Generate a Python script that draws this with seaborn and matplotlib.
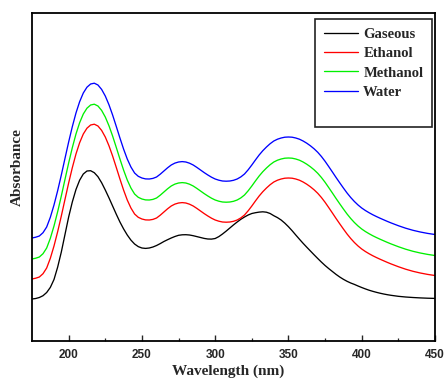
import pandas as pd
import seaborn as sns
import matplotlib.pyplot as plt
from matplotlib.lines import Line2D

# wavelength grid (nm)
wavelength = [175, 177.5, 180, 182.5, 185, 187.5, 190, 192.5, 195, 197.5,
              200, 202.5, 205, 207.5, 210, 212.5, 215, 217.5, 220, 222.5,
              225, 227.5, 230, 232.5, 235, 237.5, 240, 242.5, 245, 247.5,
              250, 252.5, 255, 257.5, 260, 262.5, 265, 267.5, 270, 272.5,
              275, 277.5, 280, 282.5, 285, 287.5, 290, 292.5, 295, 297.5,
              300, 302.5, 305, 307.5, 310, 312.5, 315, 317.5, 320, 322.5,
              325, 327.5, 330, 332.5, 335, 337.5, 340, 342.5, 345, 347.5,
              350, 352.5, 355, 357.5, 360, 362.5, 365, 367.5, 370, 372.5,
              375, 377.5, 380, 382.5, 385, 387.5, 390, 392.5, 395, 397.5,
              400, 402.5, 405, 407.5, 410, 412.5, 415, 417.5, 420,
              425, 430, 435, 440, 445, 450]

# absorbance (arbitrary units)
gaseous = [0.420, 0.425, 0.435, 0.453, 0.485, 0.536, 0.615, 0.739, 0.890, 1.065,
           1.240, 1.390, 1.515, 1.608, 1.670, 1.700, 1.703, 1.683, 1.643, 1.583,
           1.510, 1.432, 1.350, 1.268, 1.190, 1.121, 1.060, 1.009, 0.970, 0.944,
           0.930, 0.926, 0.930, 0.940, 0.955, 0.974, 0.995, 1.013, 1.030, 1.045,
           1.057, 1.062, 1.063, 1.060, 1.053, 1.044, 1.035, 1.026, 1.020, 1.019,
           1.025, 1.044, 1.070, 1.099, 1.130, 1.161, 1.190, 1.217, 1.240, 1.260,
           1.275, 1.283, 1.289, 1.292, 1.288, 1.275, 1.253, 1.234, 1.210, 1.179,
           1.143, 1.103, 1.060, 1.018, 0.977, 0.938, 0.900, 0.862, 0.825, 0.789,
           0.755, 0.724, 0.695, 0.666, 0.640, 0.617, 0.597, 0.580, 0.566, 0.550,
           0.535, 0.521, 0.508, 0.497, 0.487, 0.478, 0.470, 0.463, 0.457,
           0.447, 0.440, 0.435, 0.431, 0.428, 0.426]

ethanol = [0.620, 0.628, 0.640, 0.673, 0.730, 0.827, 0.950, 1.093, 1.250, 1.416,
           1.580, 1.733, 1.870, 1.983, 2.070, 2.128, 2.160, 2.168, 2.150, 2.106,
           2.040, 1.953, 1.850, 1.736, 1.620, 1.509, 1.410, 1.330, 1.270, 1.237,
           1.220, 1.211, 1.210, 1.216, 1.230, 1.258, 1.290, 1.322, 1.350, 1.369,
           1.380, 1.384, 1.380, 1.368, 1.350, 1.326, 1.300, 1.274, 1.250, 1.228,
           1.210, 1.198, 1.190, 1.188, 1.190, 1.197, 1.210, 1.231, 1.260, 1.302,
           1.350, 1.401, 1.450, 1.493, 1.530, 1.563, 1.590, 1.608, 1.620, 1.628,
           1.630, 1.628, 1.620, 1.608, 1.590, 1.568, 1.542, 1.512, 1.477, 1.435,
           1.387, 1.334, 1.280, 1.225, 1.172, 1.120, 1.070, 1.025, 0.985, 0.950,
           0.920, 0.895, 0.873, 0.853, 0.835, 0.818, 0.802, 0.786, 0.771,
           0.743, 0.718, 0.697, 0.680, 0.666, 0.655]

methanol = [0.820, 0.828, 0.840, 0.873, 0.930, 1.027, 1.150, 1.293, 1.450, 1.616,
            1.780, 1.933, 2.070, 2.183, 2.270, 2.328, 2.360, 2.368, 2.350, 2.306,
            2.240, 2.153, 2.050, 1.936, 1.820, 1.709, 1.610, 1.530, 1.470, 1.437,
            1.420, 1.411, 1.410, 1.416, 1.430, 1.458, 1.490, 1.522, 1.550, 1.569,
            1.580, 1.584, 1.580, 1.568, 1.550, 1.526, 1.500, 1.474, 1.450, 1.428,
            1.410, 1.398, 1.390, 1.388, 1.390, 1.397, 1.410, 1.431, 1.460, 1.502,
            1.550, 1.601, 1.650, 1.693, 1.730, 1.763, 1.790, 1.808, 1.820, 1.828,
            1.830, 1.828, 1.820, 1.808, 1.790, 1.768, 1.742, 1.712, 1.677, 1.635,
            1.587, 1.534, 1.480, 1.425, 1.372, 1.320, 1.270, 1.225, 1.185, 1.150,
            1.120, 1.095, 1.073, 1.053, 1.035, 1.018, 1.002, 0.986, 0.971,
            0.943, 0.918, 0.897, 0.880, 0.866, 0.855]

water = [1.030, 1.038, 1.050, 1.083, 1.140, 1.237, 1.360, 1.503, 1.660, 1.826,
         1.990, 2.143, 2.280, 2.393, 2.480, 2.538, 2.570, 2.578, 2.560, 2.516,
         2.450, 2.363, 2.260, 2.146, 2.030, 1.919, 1.820, 1.740, 1.680, 1.647,
         1.630, 1.621, 1.620, 1.626, 1.640, 1.668, 1.700, 1.732, 1.760, 1.779,
         1.790, 1.794, 1.790, 1.778, 1.760, 1.736, 1.710, 1.684, 1.660, 1.638,
         1.620, 1.608, 1.600, 1.598, 1.600, 1.607, 1.620, 1.641, 1.670, 1.712,
         1.760, 1.811, 1.860, 1.903, 1.940, 1.973, 2.000, 2.018, 2.030, 2.038,
         2.040, 2.038, 2.030, 2.018, 2.000, 1.978, 1.952, 1.922, 1.887, 1.845,
         1.797, 1.744, 1.690, 1.635, 1.582, 1.530, 1.480, 1.435, 1.395, 1.360,
         1.330, 1.305, 1.283, 1.263, 1.245, 1.228, 1.212, 1.196, 1.181,
         1.153, 1.128, 1.107, 1.090, 1.076, 1.065]

solvents = ['Gaseous', 'Ethanol', 'Methanol', 'Water']
colors = {'Gaseous': '#000000', 'Ethanol': '#ff0000',
          'Methanol': '#00f000', 'Water': '#0000ff'}

# long table for seaborn
frames = []
for name, values in zip(solvents, [gaseous, ethanol, methanol, water]):
    frames.append(pd.DataFrame({'Wavelength': wavelength,
                                'Absorbance': values,
                                'Solvent': name}))
df = pd.concat(frames, ignore_index=True)

sns.set_style('ticks')
plt.rcParams['font.family'] = ['Liberation Serif', 'DejaVu Serif']

fig = plt.figure(figsize=(4.44, 3.80), dpi=100)
ax = fig.add_axes([0.0721, 0.1026, 0.9076, 0.8632])

sns.lineplot(data=df, x='Wavelength', y='Absorbance', hue='Solvent',
             hue_order=solvents, palette=colors, linewidth=0.95,
             estimator=None, sort=False, ax=ax)

ax.set_xlim(175, 450)
ax.set_ylim(0, 3.28)
ax.set_xticks([200, 250, 300, 350, 400, 450])
ax.set_xticks([225, 275, 325, 375, 425], minor=True)
ax.set_yticks([])

ax.tick_params(axis='x', which='major', direction='in', length=4.5, width=1.0,
               pad=5.5, labelsize=8.5)
ax.tick_params(axis='x', which='minor', direction='in', length=2.5, width=0.9)
for lab in ax.get_xticklabels():
    lab.set_fontfamily(['Liberation Sans', 'DejaVu Sans'])
    lab.set_fontweight('bold')

for sp in ax.spines.values():
    sp.set_visible(True)
    sp.set_linewidth(1.3)
    sp.set_color('black')

ax.set_xlabel('Wavelength (nm)', fontsize=11, fontweight='bold', labelpad=3)
ax.set_ylabel('Absorbance', fontsize=11, fontweight='bold', labelpad=6)
ax.xaxis.label.set_x(0.486)
ax.yaxis.label.set_y(0.53)

# legend with an empty row at the bottom, as in the original
handles, labels = ax.get_legend_handles_labels()
handles.append(Line2D([], [], color='none'))
labels.append(' ')
leg = ax.legend(handles, labels, loc='upper right', bbox_to_anchor=(0.993, 0.982),
                fancybox=False, framealpha=1, edgecolor='#222222',
                handlelength=2.35, handletextpad=0.35, labelspacing=0.42,
                borderpad=0.6, borderaxespad=0,
                prop={'family': 'Liberation Serif', 'weight': 'bold', 'size': 10.5})
leg.get_frame().set_linewidth(1.2)

fig.savefig('out.png', dpi=100)
